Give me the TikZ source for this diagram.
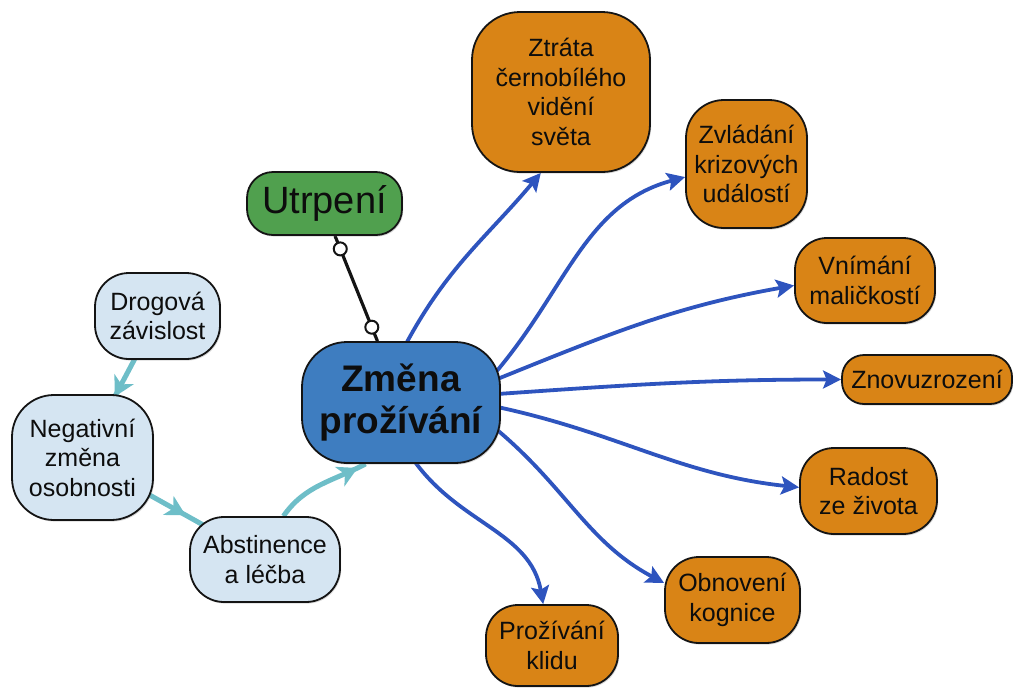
\documentclass[tikz,border=0pt]{standalone}
\usepackage{fontspec}
\setmainfont{Liberation Sans}
\usetikzlibrary{arrows.meta,shadows,decorations.markings,backgrounds}

\definecolor{orangefill}{RGB}{217,132,22}
\definecolor{corefill}{RGB}{62,125,192}
\definecolor{greenfill}{RGB}{80,160,78}
\definecolor{paleblue}{RGB}{213,229,242}
\definecolor{linkblue}{RGB}{46,84,190}
\definecolor{linkteal}{RGB}{110,190,200}

\begin{document}
\begin{tikzpicture}[x=1pt,y=1pt,
  box/.style={draw=black!92, line width=1.8pt, align=center, text=black!95,
    inner sep=0pt, font=\fontsize{25}{29.5}\selectfont,
    drop shadow={shadow xshift=1.2pt, shadow yshift=-1.6pt, opacity=0.3}},
  result/.style={box, fill=orangefill},
  cause/.style={box, fill=paleblue},
  bluelink/.style={draw=linkblue, line width=3.8pt,
    -{Stealth[length=18pt,width=18pt,inset=3.5pt]}, shorten <=-6pt},
  teallink/.style={draw=linkteal, line width=5pt, postaction={decorate},
    decoration={markings, mark=at position #1 with
      {\fill[linkteal] (0,0) -- (-20pt,11pt) -- (-14pt,0) -- (-20pt,-11pt) -- cycle;}}},
  ring/.style={fill=white, draw=black!92, line width=2pt}
]
\useasboundingbox (0,0) rectangle (1013,-689);

% central node
\node[box, fill=corefill, minimum width=198pt, minimum height=121pt,
  rounded corners=45pt, font=\bfseries\fontsize{37}{42}\selectfont]
  (zmena) at (401,-402.5) {Změna\\prožívání};

% linked concept
\node[box, fill=greenfill, minimum width=155pt, minimum height=63pt,
  rounded corners=26pt, font=\fontsize{38}{44}\selectfont]
  (utrpeni) at (324.5,-203.5) {Utrpení};

% outcomes
\node[result, minimum width=178pt, minimum height=160pt, rounded corners=48pt]
  (ztrata) at (561,-92) {Ztráta\\černobílého\\vidění\\světa};
\node[result, minimum width=121pt, minimum height=128pt, rounded corners=38pt]
  (zvladani) at (746.5,-164) {Zvládání\\krizových\\událostí};
\node[result, minimum width=140pt, minimum height=85pt, rounded corners=32pt]
  (vnimani) at (865,-280.5) {Vnímání\\maličkostí};
\node[result, minimum width=170pt, minimum height=49pt, rounded corners=22pt]
  (znovu) at (927,-379.5) {Znovuzrození};
\node[result, minimum width=137pt, minimum height=86pt, rounded corners=34pt]
  (radost) at (868.5,-491) {Radost\\ze života};
\node[result, minimum width=135pt, minimum height=86pt, rounded corners=34pt]
  (obnoveni) at (732.5,-600) {Obnovení\\kognice};
\node[result, minimum width=132pt, minimum height=81pt, rounded corners=32pt]
  (klid) at (552,-645.5) {Prožívání\\klidu};

% causes
\node[cause, minimum width=125pt, minimum height=86pt, rounded corners=34pt]
  (drogova) at (157.5,-316) {Drogová\\závislost};
\node[cause, minimum width=141pt, minimum height=125pt, rounded corners=42pt]
  (negativni) at (82.5,-457.5) {Negativní\\změna\\osobnosti};
\node[cause, minimum width=150pt, minimum height=85pt, rounded corners=34pt]
  (abstinence) at (265,-559.5) {Abstinence\\a léčba};

\begin{scope}[on background layer]
  % outgoing links
  \draw[bluelink] (zmena.84)  to[out=62,in=230]  (ztrata.256);
  \draw[bluelink] (zmena.20)  to[out=50,in=195]  (zvladani.192);
  \draw[bluelink] (zmena.14)  to[out=22,in=190]  (vnimani.184);
  \draw[bluelink] (zmena.5.5) to[out=4,in=180]   (znovu.west);
  \draw[bluelink] (zmena.357) to[out=-12,in=174] (radost.177);
  \draw[bluelink] (zmena.343) to[out=-40,in=152] (obnoveni.166);
  \draw[bluelink] (zmena.284) to[out=-55,in=100] (klid.102);

  % path of causes
  \draw[teallink=0.57]  (drogova.center) -- (negativni.center);
  \draw[teallink=0.565] (negativni.center) -- (abstinence.center);
  \draw[teallink=-9pt]  (abstinence.67) to[out=55,in=208] (zmena.240.7);

  % association with rings at both ends
  \draw[line width=3.2pt, black!92, postaction={decorate},
    decoration={markings,
      mark=at position 14pt with {\filldraw[ring] (0,0) circle (6.5pt);},
      mark=at position -15pt with {\filldraw[ring] (0,0) circle (6.5pt);}}]
    (utrpeni.288) -- (zmena.111);
\end{scope}
\end{tikzpicture}
\end{document}
